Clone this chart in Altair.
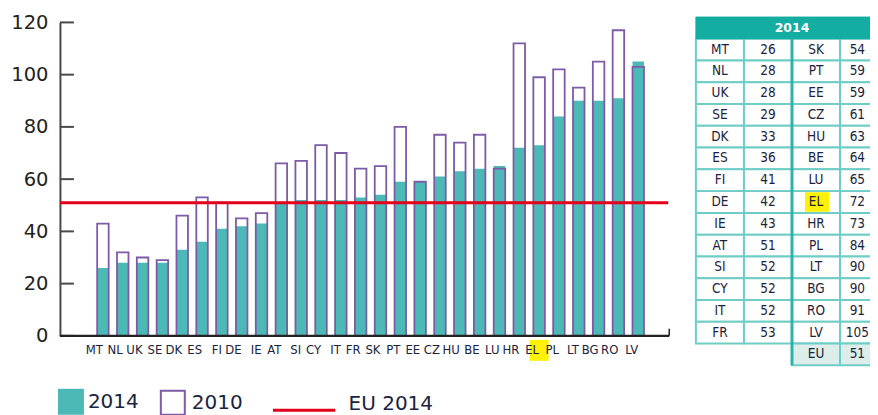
import altair as alt
import pandas as pd

# ---------------- data ----------------
countries = ["MT", "NL", "UK", "SE", "DK", "ES", "FI", "DE", "IE", "AT", "SI", "CY", "IT", "FR",
             "SK", "PT", "EE", "CZ", "HU", "BE", "LU", "HR", "EL", "PL", "LT", "BG", "RO", "LV"]
v2014 = [26, 28, 28, 28, 33, 36, 41, 42, 43, 51, 52, 52, 52, 53,
         54, 59, 59, 61, 63, 64, 65, 72, 73, 84, 90, 90, 91, 105]
v2010 = [43, 32, 30, 29, 46, 53, 51, 45, 47, 66, 67, 73, 70, 64,
         65, 80, 59, 77, 74, 77, 64, 112, 99, 102, 95, 105, 117, 103]
eu_2014 = 51
y_ticks = [0, 20, 40, 60, 80, 100, 120]
highlight = "EL"

table_title = "2014"
left_codes = ["MT", "NL", "UK", "SE", "DK", "ES", "FI", "DE", "IE", "AT", "SI", "CY", "IT", "FR"]
left_vals = [26, 28, 28, 29, 33, 36, 41, 42, 43, 51, 52, 52, 52, 53]
right_codes = ["SK", "PT", "EE", "CZ", "HU", "BE", "LU", "EL", "HR", "PL", "LT", "BG", "RO", "LV", "EU"]
right_vals = [54, 59, 59, 61, 63, 64, 65, 72, 73, 84, 90, 90, 91, 105, 51]

# ---------------- styles ----------------
TEAL = "#4DB9B7"
PURPLE = "#7D5BA6"
RED = "#E2001A"
NAVY = "#1A2440"
AXIS = "#4A4A4A"
HEAD = "#13ADA2"
GRID = "#6FCDC6"
SEP = "#2FB3A8"
EUFILL = "#DCEDEA"
YELLOW = "#FFF200"
COND = "DejaVu Sans Condensed, Liberation Sans Narrow, sans-serif"
SANS = "DejaVu Sans, sans-serif"

W, H = 811, 352

bars_df = pd.DataFrame({"country": countries, "v2014": v2014, "v2010": v2010,
                        "s14": "2014", "s10": "2010"})
eu_df = pd.DataFrame({"eu": [eu_2014], "s": ["EU 2014"]})
ticks_df = pd.DataFrame({"t": y_ticks})
hl_df = bars_df[bars_df["country"] == highlight]
base_df = pd.DataFrame({"z": [0], "z2": [2.7]})

xscale = alt.Scale(domain=countries, range=[33.1, 588.9], paddingInner=0.42, paddingOuter=0.21)
yscale = alt.Scale(domain=[0, 120], range=[320, 6.2], nice=False, zero=True)

x_main = alt.X("country:N", sort=countries, scale=xscale,
               axis=alt.Axis(title=None, labelAngle=0, domain=False, ticks=False,
                             labelFont=COND, labelFontSize=13, labelColor=NAVY,
                             labelPadding=14, offset=-(H - 320), zindex=1))
x_plain = alt.X("country:N", sort=countries, title=None)

bars14 = alt.Chart(bars_df).mark_bar(strokeWidth=0).encode(
    x=x_main,
    y=alt.Y("v2014:Q", scale=yscale, stack=None,
            axis=alt.Axis(title=None, values=y_ticks, grid=False, ticks=False,
                          domainColor=AXIS, domainWidth=2, labelFont=SANS,
                          labelFontSize=19.5, labelColor="#222222", labelPadding=12)),
    fill=alt.Fill("s14:N", scale=alt.Scale(domain=["2014"], range=[TEAL]),
                  legend=alt.Legend(title=None, orient="none", legendX=-2, legendY=373,
                                    symbolType="square", symbolSize=676, symbolStrokeWidth=0,
                                    labelFont=SANS, labelFontSize=20, labelColor=NAVY,
                                    labelOffset=4)),
)

bars10 = alt.Chart(bars_df).mark_bar(fill="white", fillOpacity=0, strokeWidth=1.8).encode(
    x=x_plain,
    y=alt.Y("v2010:Q", stack=None, title=None),
    stroke=alt.Stroke("s10:N", scale=alt.Scale(domain=["2010"], range=[PURPLE]),
                      legend=alt.Legend(title=None, orient="none", legendX=100, legendY=374,
                                        symbolType="square", symbolSize=576,
                                        symbolFillColor="white", symbolStrokeWidth=2,
                                        labelFont=SANS, labelFontSize=20, labelColor=NAVY,
                                        labelOffset=6)),
)

eu_rule = alt.Chart(eu_df).mark_rule(strokeWidth=3).encode(
    y=alt.Y("eu:Q", title=None),
    x=alt.value(0), x2=alt.value(609),
    color=alt.Color("s:N", scale=alt.Scale(domain=["EU 2014"], range=[RED]),
                    legend=alt.Legend(title=None, orient="none", legendX=230, legendY=380,
                                      symbolType="M-2.4,0H2.4", symbolSize=676,
                                      symbolStrokeWidth=3, labelBaseline="alphabetic",
                                      labelFont=SANS, labelFontSize=20, labelColor=NAVY,
                                      labelOffset=30)),
)

inner_ticks = alt.Chart(ticks_df).mark_rule(color=AXIS, strokeWidth=2).encode(
    y=alt.Y("t:Q", title=None), x=alt.value(0), x2=alt.value(14))

baseline = alt.Chart(base_df).mark_rule(color="#222222", strokeWidth=2.2).encode(
    y=alt.Y("z:Q", title=None), x=alt.value(0), x2=alt.value(610))
end_tick = alt.Chart(base_df).mark_rule(color="#222222", strokeWidth=1.5).encode(
    y=alt.Y("z:Q", title=None), y2="z2:Q", x=alt.value(610))

hl_box = alt.Chart(hl_df).mark_bar(color=YELLOW, width=19).encode(
    x=x_plain, y=alt.value(324), y2=alt.value(345))

bars_part = alt.layer(hl_box, inner_ticks, bars14, bars10, eu_rule, baseline, end_tick)

# ---------------- table ----------------
rows = []
for i, (c, v) in enumerate(zip(left_codes, left_vals)):
    rows.append({"col": 0, "row": i + 1, "text": c})
    rows.append({"col": 1, "row": i + 1, "text": str(v)})
for i, (c, v) in enumerate(zip(right_codes, right_vals)):
    rows.append({"col": 2, "row": i + 1, "text": c})
    rows.append({"col": 3, "row": i + 1, "text": str(v)})
cells_df = pd.DataFrame(rows)
cells_df["x0"] = cells_df["col"]
cells_df["x1"] = cells_df["col"] + 1
cells_df["y0"] = cells_df["row"]
cells_df["y1"] = cells_df["row"] + 1
# last column is cut by the page edge: keep its text inside the visible part
cells_df["xc"] = cells_df["col"] + cells_df["col"].map(lambda c: 0.36 if c == 3 else 0.5)
cells_df["yc"] = cells_df["row"] + 0.5
n_rows = len(right_codes)
eu_cells = cells_df[cells_df["row"] == n_rows]
plain_cells = cells_df[cells_df["row"] < n_rows]

el_row = right_codes.index(highlight) + 1
yel_df = pd.DataFrame({"x0": [2.27], "x1": [2.77], "y0": [el_row + 0.05], "y1": [el_row + 0.95]})
head_df = pd.DataFrame({"x0": [0], "x1": [4], "y0": [0], "y1": [1], "xc": [2], "yc": [0.5],
                        "text": [table_title]})
sep_df = pd.DataFrame({"x": [2], "y0": [1], "y1": [n_rows + 1]})

tx = alt.Scale(domain=[0, 4], range=[636.7, 829.1], nice=False, zero=False)
ty = alt.Scale(domain=[0, 16], range=[0.7, 349.5], nice=False, zero=False)

def rect_enc(ch):
    return ch.encode(x=alt.X("x0:Q", scale=tx, axis=None), x2="x1:Q",
                     y=alt.Y("y0:Q", scale=ty, axis=None), y2="y1:Q")

t_cells = rect_enc(alt.Chart(plain_cells).mark_rect(fill="white", stroke=GRID, strokeWidth=2, clip=True))
t_eu = rect_enc(alt.Chart(eu_cells).mark_rect(fill=EUFILL, stroke=GRID, strokeWidth=2, clip=True))
t_head = rect_enc(alt.Chart(head_df).mark_rect(fill=HEAD, stroke=HEAD, strokeWidth=1, clip=True))
t_yel = rect_enc(alt.Chart(yel_df).mark_rect(fill=YELLOW, clip=True))
t_sep = alt.Chart(sep_df).mark_rule(color=SEP, strokeWidth=3).encode(
    x=alt.X("x:Q", scale=tx, axis=None), y=alt.Y("y0:Q", scale=ty, axis=None), y2="y1:Q")
t_text = alt.Chart(cells_df).mark_text(font=COND, fontSize=13.5, color=NAVY, clip=True).encode(
    x=alt.X("xc:Q", scale=tx, axis=None), y=alt.Y("yc:Q", scale=ty, axis=None), text="text:N")
t_head_text = alt.Chart(head_df).mark_text(font=SANS, fontSize=12.5, fontWeight="bold",
                                           color="white").encode(
    x=alt.X("xc:Q", scale=tx, axis=None), y=alt.Y("yc:Q", scale=ty, axis=None), text="text:N")

table_part = alt.layer(t_cells, t_eu, t_head, t_yel, t_sep, t_text, t_head_text)

chart = alt.layer(bars_part, table_part).resolve_scale(
    x="independent", y="independent"
).properties(
    width=W, height=H,
    padding={"left": 2, "top": 4, "right": 0, "bottom": 0},
    background="white",
).configure_view(stroke=None)

chart.save("out.html", embed_options={"renderer": "svg", "actions": False})
